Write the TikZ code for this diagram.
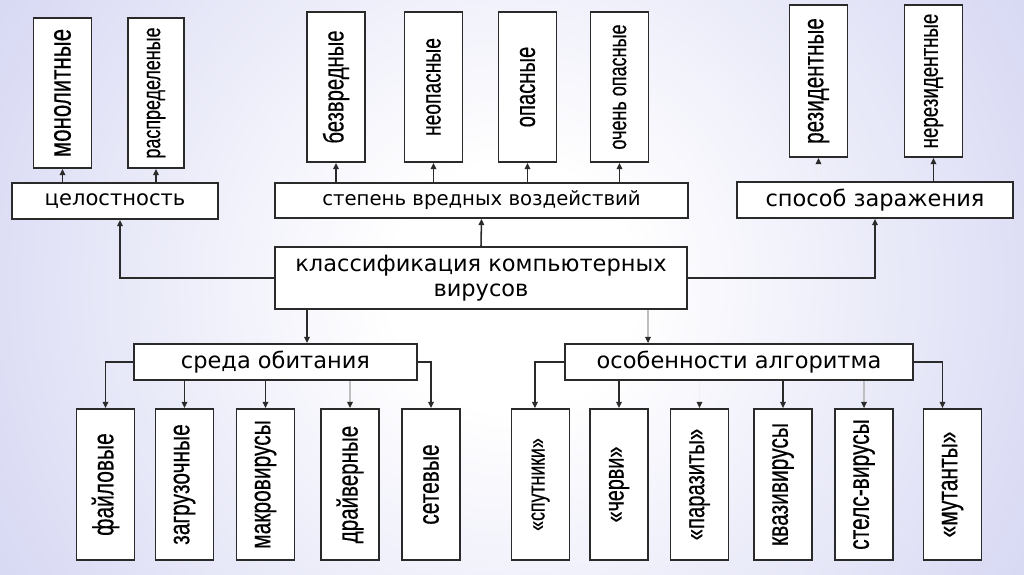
\documentclass[tikz,border=0pt]{standalone}
\usepackage{graphicx}
\usepackage{fontspec}
\setmainfont{DejaVu Sans}
\newfontfamily\narrowfont[FakeStretch=0.72,FakeBold=0.4]{Liberation Sans}
\usetikzlibrary{arrows.meta}
\definecolor{bgedge}{HTML}{C0C2EC}
\definecolor{lnk}{HTML}{2A2A2A}
\pgfdeclareradialshading{bgglow}{\pgfpoint{0bp}{0bp}}{color(0bp)=(white); color(6bp)=(white); color(42bp)=(bgedge); color(50bp)=(bgedge)}

\begin{document}
\begin{tikzpicture}[x=0.025cm,y=-0.025cm,
  hbox/.style={draw=lnk,line width=1.2pt,fill=white,inner sep=0pt,minimum height=0.9cm,font=\fontsize{16}{17.5}\selectfont},
  vbox/.style={draw=lnk,line width=1.2pt,fill=white,inner sep=0pt,minimum width=1.45cm,minimum height=3.75cm,font={\narrowfont\fontsize{20.7}{22}\selectfont}},
  vsize/.style={font={\narrowfont\fontsize{#1}{#1}\selectfont}},
  ar/.style={draw=lnk,line width=1.1pt,-{Triangle[length=4.5pt,width=4pt]}},
  faint/.style={draw=lnk!30,line width=1.1pt,-{Triangle[length=4.5pt,width=4pt,color=lnk]}},
  ghost/.style={draw=lnk!6,line width=1.1pt,-{Triangle[length=4.5pt,width=4pt,color=lnk]}}]
\useasboundingbox (0,0) rectangle (1024,574);
\begin{scope}
  \clip (0,0) rectangle (1024,574);
  \shade[shading=bgglow] (0,-225) rectangle (1024,799);
\end{scope}

% root
\node[hbox,minimum width=10.3cm,minimum height=1.55cm,align=center] (klass) at (481,278) {классификация компьютерных\\вирусов};

% upper groups
\node[hbox,minimum width=5.15cm,font=\fontsize{15}{17}\selectfont] (celost) at (115,201) {целостность};
\node[hbox,minimum width=10.325cm,minimum height=0.875cm,font=\fontsize{14}{16}\selectfont] (stepen) at (481.5,200.5) {степень вредных воздействий};
\node[hbox,minimum width=6.9cm] (sposob) at (875,200) {способ заражения};

\node[vbox,vsize=22] (mono) at (62.5,93) {\rotatebox{90}{монолитные}};
\node[vbox,vsize=17.7,minimum width=1.4cm] (raspr) at (156,93) {\rotatebox{90}{распределеные}};

\node[vbox,vsize=20] (bezvr) at (336,87) {\rotatebox{90}{безвредные}};
\node[vbox,vsize=19] (neopas) at (433.5,87) {\rotatebox{90}{неопасные}};
\node[vbox,vsize=20] (opas) at (527.5,87) {\rotatebox{90}{опасные}};
\node[vbox,vsize=17.8] (ochen) at (619.5,87) {\rotatebox{90}{очень опасные}};

\node[vbox,vsize=20.4,minimum height=3.8cm] (rezid) at (818.5,81) {\rotatebox{90}{резидентные}};
\node[vbox,vsize=18.5,minimum height=3.8cm] (nerezid) at (933.5,81) {\rotatebox{90}{нерезидентные}};

% lower groups
\node[hbox,minimum width=7.075cm] (sreda) at (275.5,362) {среда обитания};
\node[hbox,minimum width=8.7cm] (osob) at (739,362) {особенности алгоритма};

\node[vbox,minimum height=3.775cm] (fail) at (105.5,484.5) {\rotatebox{90}{файловые}};
\node[vbox,minimum height=3.775cm] (zagr) at (184.5,484.5) {\rotatebox{90}{загрузочные}};
\node[vbox,minimum height=3.775cm] (makro) at (265.5,484.5) {\rotatebox{90}{макровирусы}};
\node[vbox,vsize=20.3,minimum height=3.775cm] (draiv) at (350,484.5) {\rotatebox{90}{драйверные}};
\node[vbox,minimum height=3.775cm] (setev) at (431,484.5) {\rotatebox{90}{сетевые}};

\node[vbox,vsize=17.5,minimum height=3.775cm] (sput) at (540.5,484.5) {\rotatebox{90}{«спутники»}};
\node[vbox,vsize=19.5,minimum height=3.775cm] (cherv) at (619,484.5) {\rotatebox{90}{«черви»}};
\node[vbox,vsize=20,minimum height=3.775cm] (paraz) at (699.5,484.5) {\rotatebox{90}{«паразиты»}};
\node[vbox,minimum height=3.775cm] (kvazi) at (783,484.5) {\rotatebox{90}{квазивирусы}};
\node[vbox,minimum height=3.775cm] (stels) at (864,484.5) {\rotatebox{90}{стелс-вирусы}};
\node[vbox,minimum height=3.775cm] (mutant) at (952.5,484.5) {\rotatebox{90}{«мутанты»}};

% root to groups
\draw[ar] (klass.west) -| ([xshift=0.125cm]celost.south);
\draw[ar] (klass.north) -- (stepen.south);
\draw[ar] (klass.east) -| (sposob.south);
\draw[ar] (klass.south -| 307,0) -- (sreda.north -| 307,0);
\draw[faint] (klass.south -| 648,0) -- (osob.north -| 648,0);

% groups to leaves
\draw[ar] (celost.north -| mono) -- (mono.south);
\draw[ar] (celost.north -| raspr) -- (raspr.south);
\draw[ar] (stepen.north -| bezvr) -- (bezvr.south);
\draw[ar] (stepen.north -| neopas) -- (neopas.south);
\draw[ar] (stepen.north -| opas) -- (opas.south);
\draw[ar] (stepen.north -| ochen) -- (ochen.south);
\draw[ghost] (sposob.north -| rezid) -- (rezid.south);
\draw[ar] (sposob.north -| nerezid) -- (nerezid.south);

\draw[ar] (sreda.west) -| (fail.north);
\draw[ar] (sreda.south -| zagr) -- (zagr.north);
\draw[ar] (sreda.south -| makro) -- (makro.north);
\draw[faint] (sreda.south -| draiv) -- (draiv.north);
\draw[ar] (sreda.east) -| (setev.north);

\draw[ar] (osob.west) -| ([xshift=-0.14cm]sput.north);
\draw[ar] (osob.south -| cherv) -- (cherv.north);
\draw[ghost] (osob.south -| paraz) -- (paraz.north);
\draw[ar] (osob.south -| kvazi) -- (kvazi.north);
\draw[faint] (osob.south -| stels) -- (stels.north);
\draw[ar] (osob.east) -| ([xshift=-0.25cm]mutant.north);
\end{tikzpicture}
\end{document}
